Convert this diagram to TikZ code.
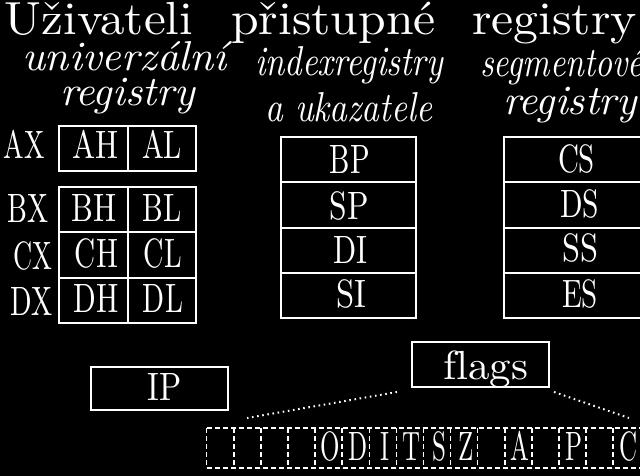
\documentclass[tikz,border=0pt]{standalone}
\usepackage{graphicx}
\newcommand\fitx[3]{\resizebox{#1pt}{#2pt}{\vphantom{x}\smash{#3}}}
\newcommand\fitH[3]{\resizebox{#1pt}{#2pt}{\vphantom{H}\smash{#3}}}
\begin{document}
\begin{tikzpicture}[x=1pt,y=-1pt,
  lbl/.style={inner sep=0pt, outer sep=0pt, text=white, anchor=base},
  lblw/.style={lbl, anchor=base west},
  box/.style={draw=white, line width=2pt},
  flagrow/.style={draw=white, line width=1.5pt, dash pattern=on 5pt off 3pt},
  dots/.style={draw=white, line width=2pt, dash pattern=on 1.6pt off 3.6pt}]
\fill[black] (0,0) rectangle (640,476);
\clip (0,0) rectangle (640,476);
% title
\node[lblw] (title) at (5,35) {\fitx{188}{20}{Uživateli}\hspace{38pt}\fitx{205}{20}{přistupné}\hspace{36pt}\fitx{165}{20}{registry}};
% subtitles
\node[lblw] (u1) at (22,71) {\fitx{205}{18}{\itshape univerzální}};
\node[lblw] (u2) at (60,106) {\fitx{135}{18}{\itshape registry}};
\node[lblw] (i1) at (255,76) {\fitx{188}{18}{\itshape indexregistry}};
\node[lblw] (i2) at (265,122) {\fitx{167}{18}{\itshape a ukazatele}};
\node[lblw] (s1) at (480,77) {\fitx{163}{18}{\itshape segmentové}};
\node[lblw] (s2) at (503,115) {\fitx{134}{18}{\itshape registry}};
% general registers
\draw[box] (59,126) rectangle (196,171) (128,126) -- (128,171);
\draw[box] (59,187) rectangle (196,323) (59,232) -- (196,232) (59,278) -- (196,278) (128,187) -- (128,323);
\node[lblw] (AX) at (4,159) {\fitH{41}{27}{AX}};
\node[lbl] (AH) at (95,159) {\fitH{46}{27}{AH}};
\node[lbl] (AL) at (162,159) {\fitH{40}{27}{AL}};
\node[lblw] (BX) at (8,222) {\fitH{41}{28}{BX}};
\node[lbl] (BH) at (94.5,221) {\fitH{45}{27}{BH}};
\node[lbl] (BL) at (162.5,221) {\fitH{39}{27}{BL}};
\node[lblw] (CX) at (13,269) {\fitH{39}{27}{CX}};
\node[lbl] (CH) at (96.5,267) {\fitH{43}{28}{CH}};
\node[lbl] (CL) at (163,267) {\fitH{38}{28}{CL}};
\node[lblw] (DX) at (11,315) {\fitH{42}{28}{DX}};
\node[lbl] (DH) at (96.5,312) {\fitH{45}{28}{DH}};
\node[lbl] (DL) at (163,312) {\fitH{40}{28}{DL}};
% index registers
\draw[box] (281,137) rectangle (416,318) (281,182) -- (416,182) (281,228) -- (416,228) (281,273) -- (416,273);
\node[lbl] (BP) at (350,173) {\fitH{40}{28}{BP}};
\node[lbl] (SP) at (349.5,219) {\fitH{39}{27}{SP}};
\node[lbl] (DI) at (350,263) {\fitH{34}{27}{DI}};
\node[lbl] (SI) at (351,307) {\fitH{30}{27}{SI}};
% segment registers
\draw[box] (504,137) rectangle (642,318) (504,182) -- (642,182) (504,228) -- (642,228) (504,273) -- (642,273);
\node[lbl] (CS) at (576.5,172) {\fitH{37}{27}{CS}};
\node[lbl] (DS) at (579.5,217) {\fitH{39}{27}{DS}};
\node[lbl] (SS) at (580,261) {\fitH{36}{27}{SS}};
\node[lbl] (ES) at (580,307) {\fitH{36}{27}{ES}};
% IP
\draw[box] (91,367) rectangle (228,410);
\node[lbl] (IP) at (165,400) {\fitH{34}{27}{IP}};
% flags
\draw[box] (412,342) rectangle (549,387);
\node[lblw] (flags) at (443,379) {\fitx{85}{17.5}{f\kern0ptlags}};
% flag bits row
\draw[flagrow] (206.7,428) -- (641,428);
\draw[flagrow] (206.7,468) -- (641,468);
\foreach \k in {0,...,16} \draw[flagrow] ({206.7+27.1*\k},428) -- ++(0,40);
\foreach \k/\L in {4/O,5/D,6/I,7/T,8/S,9/Z,11/A,13/P,15/C}
  \node[lbl] (f\L) at ({206.7+27.1*\k+15.5},460) {\scalebox{2.5}[4.1]{\L}};
\coordinate (flagsL) at (397,392);
\coordinate (flagsR) at (554,392);
\coordinate (rowL) at (247,418);
\coordinate (rowR) at (629,418);
\draw[dots] (flagsL) -- (rowL);
\draw[dots] (flagsR) -- (rowR);
\end{tikzpicture}
\end{document}
